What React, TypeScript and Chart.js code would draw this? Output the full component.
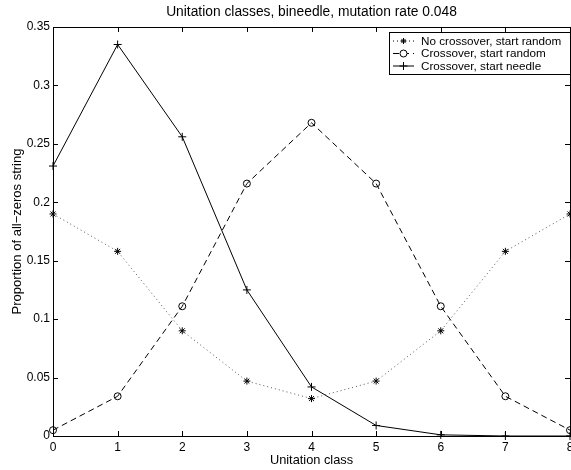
import React, { useEffect, useRef } from "react";
import { Chart, registerables } from "chart.js";

Chart.register(...registerables);

const classes = [0, 1, 2, 3, 4, 5, 6, 7, 8];
const noCrossRandom = [0.19, 0.158, 0.09, 0.047, 0.032, 0.047, 0.09, 0.158, 0.19];
const crossRandom = [0.005, 0.034, 0.111, 0.216, 0.268, 0.216, 0.111, 0.034, 0.005];
const crossNeedle = [0.231, 0.335, 0.256, 0.125, 0.042, 0.009, 0.001, 0.0, 0.0];
const yTicks = [0, 0.05, 0.1, 0.15, 0.2, 0.25, 0.3, 0.35];
const legendLabels = [
  "No crossover, start random",
  "Crossover, start random",
  "Crossover, start needle",
];
const titleText = "Unitation classes, bineedle, mutation rate 0.048";
const xTitle = "Unitation class";
const yTitle = "Proportion of all\u2212zeros string";

const FONT = "'Liberation Sans', Arial, Helvetica, sans-serif";

function drawStar(ctx: CanvasRenderingContext2D, x: number, y: number, r: number) {
  ctx.beginPath();
  ctx.moveTo(x - r, y); ctx.lineTo(x + r, y);
  ctx.moveTo(x, y - r); ctx.lineTo(x, y + r);
  const d = r * 0.7;
  ctx.moveTo(x - d, y - d); ctx.lineTo(x + d, y + d);
  ctx.moveTo(x - d, y + d); ctx.lineTo(x + d, y - d);
  ctx.stroke();
}

const framePlugin = {
  id: "frame",
  afterDraw(chart: any) {
    const { ctx, chartArea } = chart;
    const { left, right, top, bottom } = chartArea;
    const xs = chart.scales.x;
    const ys = chart.scales.y;
    ctx.save();
    ctx.strokeStyle = "#000";
    ctx.lineWidth = 1;
    ctx.setLineDash([]);
    ctx.strokeRect(Math.round(left) + 0.5, Math.round(top) + 0.5, Math.round(right - left), Math.round(bottom - top));
    ctx.beginPath();
    for (const v of classes) {
      const px = Math.round(xs.getPixelForValue(v)) + 0.5;
      ctx.moveTo(px, bottom); ctx.lineTo(px, bottom - 5);
      ctx.moveTo(px, top); ctx.lineTo(px, top + 5);
    }
    for (const v of yTicks) {
      const py = Math.round(ys.getPixelForValue(v)) + 0.5;
      ctx.moveTo(left, py); ctx.lineTo(left + 5, py);
      ctx.moveTo(right, py); ctx.lineTo(right - 5, py);
    }
    ctx.stroke();

    // legend
    const bx = 389.5, by = 32.5, bw = 181, bh = 42;
    ctx.fillStyle = "#fff";
    ctx.fillRect(bx, by, bw, bh);
    ctx.strokeRect(bx, by, bw, bh);
    const rows = [41, 53.5, 66];
    ctx.font = `11.7px ${FONT}`;
    ctx.textBaseline = "middle";
    ctx.textAlign = "left";
    rows.forEach((ry, i) => {
      const x1 = 393, x2 = 414, mx = 403.5;
      ctx.strokeStyle = "#000";
      ctx.lineWidth = 1;
      ctx.beginPath();
      if (i === 0) ctx.setLineDash([1, 3]);
      else if (i === 1) ctx.setLineDash([6, 4]);
      else ctx.setLineDash([]);
      ctx.moveTo(x1, ry); ctx.lineTo(x2, ry);
      ctx.stroke();
      ctx.setLineDash([]);
      if (i === 0) drawStar(ctx, mx, ry, 3);
      else if (i === 1) {
        ctx.beginPath(); ctx.arc(mx, ry, 3.5, 0, Math.PI * 2);
        ctx.fillStyle = "#fff"; ctx.fill(); ctx.stroke();
      } else {
        ctx.beginPath();
        ctx.moveTo(mx - 4, ry); ctx.lineTo(mx + 4, ry);
        ctx.moveTo(mx, ry - 4); ctx.lineTo(mx, ry + 4);
        ctx.stroke();
      }
      ctx.fillStyle = "#000";
      ctx.fillText(legendLabels[i], 421, ry + 0.5);
    });
    ctx.restore();
  },
};

export default function App() {
  const ref = useRef<HTMLCanvasElement | null>(null);
  useEffect(() => {
    if (!ref.current) return;
    const mk = (arr: number[]) => classes.map((c, i) => ({ x: c, y: arr[i] }));
    const chart = new Chart(ref.current, {
      type: "line",
      data: {
        datasets: [
          {
            label: legendLabels[0],
            data: mk(noCrossRandom),
            borderColor: "#555",
            borderWidth: 1,
            borderDash: [1, 3],
            pointStyle: "star",
            pointRadius: 3.5,
            pointBorderColor: "#000",
            pointBackgroundColor: "#000",
            pointBorderWidth: 1,
            tension: 0,
            clip: false,
          },
          {
            label: legendLabels[1],
            data: mk(crossRandom),
            borderColor: "#000",
            borderWidth: 1,
            borderDash: [6, 4],
            pointStyle: "circle",
            pointRadius: 3.5,
            pointBorderColor: "#000",
            pointBackgroundColor: "rgba(255,255,255,0)",
            pointBorderWidth: 1,
            tension: 0,
            clip: false,
          },
          {
            label: legendLabels[2],
            data: mk(crossNeedle),
            borderColor: "#000",
            borderWidth: 1,
            pointStyle: "cross",
            pointRadius: 4,
            pointBorderColor: "#000",
            pointBorderWidth: 1,
            tension: 0,
            clip: false,
          },
        ],
      },
      options: {
        responsive: false,
        animation: false,
        layout: { padding: { left: 0, right: 2, top: 0, bottom: 0 } },
        plugins: {
          legend: { display: false },
          tooltip: { enabled: false },
          title: {
            display: true,
            text: titleText,
            fullSize: false,
            color: "#000",
            font: { family: FONT, size: 13.8, weight: "normal" },
            padding: { top: 4, bottom: 6.4 },
          },
        },
        scales: {
          x: {
            type: "linear",
            min: 0,
            max: 8,
            grid: { display: false, drawTicks: false },
            border: { display: false },
            afterFit: (s: any) => { s.height = 34; s.paddingLeft = 0; s.paddingRight = 0; },
            ticks: {
              stepSize: 1,
              color: "#000",
              padding: 4,
              font: { family: FONT, size: 12 },
              maxRotation: 0,
            },
            title: {
              display: true,
              text: xTitle,
              color: "#000",
              font: { family: FONT, size: 12.8 },
              padding: { top: 0, bottom: 2 },
            },
          },
          y: {
            min: 0,
            max: 0.35,
            grid: { display: false, drawTicks: false },
            border: { display: false },
            afterFit: (s: any) => { s.width = 53; s.paddingTop = 0; s.paddingBottom = 0; },
            ticks: {
              stepSize: 0.05,
              color: "#000",
              padding: 3,
              font: { family: FONT, size: 12 },
              callback: (v: any) => String(Number(Number(v).toFixed(2))),
            },
            title: {
              display: true,
              text: yTitle,
              color: "#000",
              font: { family: FONT, size: 13 },
              padding: { top: 9.2, bottom: 0 },
            },
          },
        },
      },
      plugins: [framePlugin],
    } as any);
    return () => chart.destroy();
  }, []);
  return (
    <div style={{ position: "fixed", left: 0, top: 0, width: 571, height: 470, overflow: "hidden", background: "#fff" }}>
      <canvas ref={ref} width={575} height={470} style={{ width: 575, height: 470, display: "block" }} />
    </div>
  );
}
